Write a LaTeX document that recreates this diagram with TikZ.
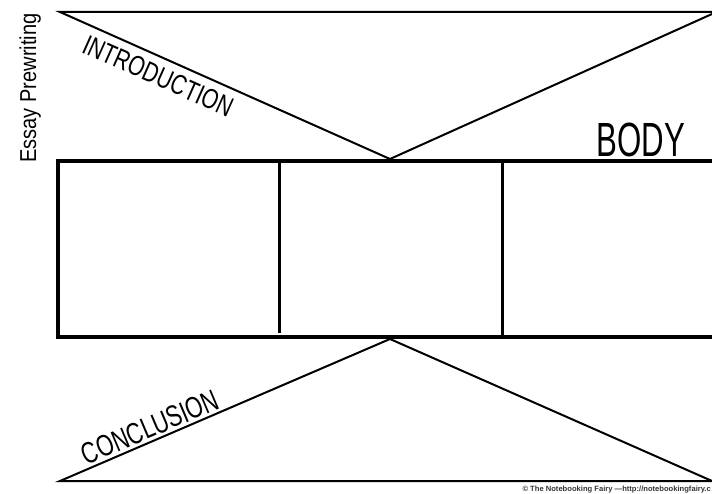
\documentclass[tikz,border=0pt]{standalone}
\usepackage{fontspec}
\setmainfont{Liberation Sans}
\usetikzlibrary{positioning}

\newcommand{\narrow}[2]{\scalebox{#1}[1]{#2}}

\begin{document}
\begin{tikzpicture}[
    x=1pt, y=-1pt,
    thinline/.style={line width=2pt, draw=black, line join=miter},
    boxline/.style={line width=3.2pt, draw=black},
    divider/.style={line width=3pt, draw=black},
    part/.style={inner sep=0pt, font=\fontsize{28}{28}\selectfont},
    side/.style={inner sep=0pt, font=\fontsize{23}{23}\selectfont},
    credit/.style={inner sep=0pt, font=\fontsize{7.6}{7.6}\selectfont\bfseries, text=black!80}
]

\clip (0,0) rectangle (712,494);

% top wedge
\coordinate (introL) at (60,12);
\coordinate (introR) at (714,12);
\coordinate (introTip) at (390,159);
\draw[thinline] (introR) -- (introL) -- (introTip) -- (712,14);

% body box
\coordinate (boxNW) at (58,161);
\coordinate (boxSW) at (58,337);
\draw[boxline] (716,161) -- (boxNW) -- (boxSW) -- (716,337);
\draw[divider] (279,161) -- (279,333);
\draw[divider] (502,161) -- (502,335);

% bottom wedge
\coordinate (conclTip) at (390,339);
\coordinate (conclL) at (60,481);
\coordinate (conclR) at (714,481);
\draw[thinline] (712,481) -- (conclTip) -- (conclL) -- (conclR);

\node[part, rotate=-24] (intro) at (158,76) {\narrow{0.75}{INTRODUCTION}};
\node[part, font=\fontsize{48}{48}\selectfont] (body) at (641,140) {\narrow{0.65}{BODY}};
\node[part, font=\fontsize{30}{30}\selectfont, rotate=23] (concl) at (150,427) {\narrow{0.73}{CONCLUSION}};
\node[side, rotate=90, anchor=base] (title) at (36,88) {\narrow{0.87}{Essay Prewriting}};
\node[credit, anchor=base east] (copy) at (711,491) {© The Notebooking Fairy —http://notebookingfairy.c};

\end{tikzpicture}
\end{document}
